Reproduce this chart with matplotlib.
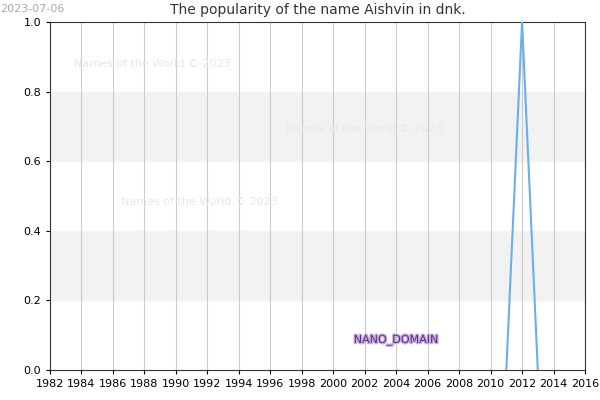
import matplotlib.pyplot as plt
import matplotlib.patheffects as pe

years = [2011, 2012, 2013]
popularity = [0.0, 1.0, 0.0]
xticks = list(range(1982, 2017, 2))
yticks = [0.0, 0.2, 0.4, 0.6, 0.8, 1.0]

fig = plt.figure(figsize=(6, 4), dpi=100)
ax = fig.add_axes([50 / 600, 30 / 400, 535 / 600, 348 / 400])

for lo, hi in [(0.2, 0.4), (0.6, 0.8)]:
    ax.axhspan(lo, hi, color="#f2f2f2", zorder=0)
for x in xticks:
    ax.axvline(x, color="#cccccc", lw=0.8, zorder=1)

ax.plot(years, popularity, color="#6aaef0", lw=1.5, zorder=3)

ax.set_xlim(1982, 2016)
ax.set_ylim(0, 1)
ax.set_xticks(xticks)
ax.set_yticks(yticks)
ax.set_yticklabels([f"{v:.1f}" for v in yticks])
ax.tick_params(labelsize=8, length=3)
for s in ax.spines.values():
    s.set_color("#333333")

ax.set_title("The popularity of the name Aishvin in dnk.", fontsize=10, color="#333333")
fig.text(0.0, 0.99, "2023-07-06", fontsize=8, color="#aaaaaa", va="top")

wm = dict(fontsize=8, color="#e6e6f5", zorder=2)
ax.text(1983.5, 0.87, "Names of the World © 2023", **wm)
ax.text(1997, 0.685, "Names of the World © 2023", **wm)
ax.text(1986.5, 0.475, "Names of the World © 2023", **wm)

ax.text(2004, 0.085, "NANO_DOMAIN", fontsize=8, color="#5a2d82", ha="center", va="center", zorder=4,
        path_effects=[pe.withStroke(linewidth=2, foreground="#c8b0e0")])

fig.savefig("out.png", dpi=100)
